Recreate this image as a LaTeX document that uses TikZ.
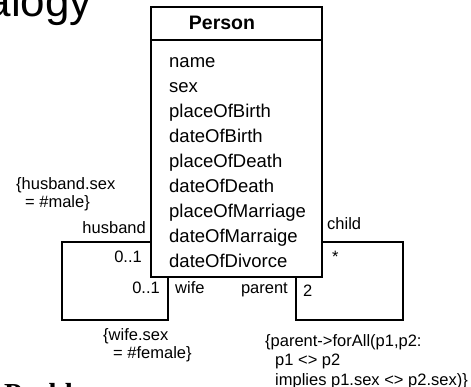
\documentclass[tikz,border=0pt]{standalone}
\usepackage{fontspec}
\setmainfont{Liberation Sans}
\newfontfamily\titleserif{Liberation Serif}
\begin{document}
\begin{tikzpicture}[x=1pt,y=-1pt,
  classbox/.style={draw, line width=1.5pt, rectangle, inner sep=0pt},
  assoc/.style={draw, line width=1.5pt},
  attr/.style={anchor=base west, inner sep=0pt, font=\fontsize{18.5}{22}\selectfont},
  rolelbl/.style={inner sep=0pt, font=\fontsize{16.5}{20}\selectfont},
  constr/.style={anchor=base west, inner sep=0pt, font=\fontsize{16.5}{20}\selectfont},
]
\useasboundingbox (0,0) rectangle (471,387);
\clip (0,0) rectangle (471,387);

% headings of the surrounding slide
\node[anchor=base east, inner sep=0pt, font=\fontsize{44}{52}\selectfont] (title) at (92,17) {Genealogy};
\node[anchor=base west, inner sep=0pt, font=\titleserif\bfseries\fontsize{29}{34}\selectfont] (section) at (4,403.5) {Problem};

% class Person
\node[classbox, minimum width=171, minimum height=270] (person) at (236.5,142) {};
\coordinate (sep) at (0,40);
\draw[line width=1.5pt] (person.west |- sep) -- (person.east |- sep);
\node[anchor=base, inner sep=0pt, font=\bfseries\fontsize{19.5}{23}\selectfont] (pname) at (222,30) {Person};

\node[attr] (a1) at (169,68)  {name};
\node[attr] (a2) at (169,93)  {sex};
\node[attr] (a3) at (169,118) {placeOfBirth};
\node[attr] (a4) at (169,143) {dateOfBirth};
\node[attr] (a5) at (169,168) {placeOfDeath};
\node[attr] (a6) at (169,193) {dateOfDeath};
\node[attr] (a7) at (169,218) {placeOfMarriage};
\node[attr] (a8) at (169,243) {dateOfMarraige};
\node[attr] (a9) at (169,268) {dateOfDivorce};

% marriage association (husband / wife)
\coordinate (h1) at (62,242);
\coordinate (h2) at (62,320);
\coordinate (w1) at (168,320);
\draw[assoc] (person.west |- h1) -- (h1) -- (h2) -- (w1) -- (w1 |- person.south);

\node[rolelbl, anchor=base east] (husband) at (146,234) {husband};
\node[rolelbl, anchor=base east] (hmult) at (142,263) {0..1};
\node[rolelbl, anchor=base east] (wmult) at (160,294) {0..1};
\node[rolelbl, anchor=base west] (wife) at (175,294) {wife};

\node[constr] (hc1) at (16,190) {\{husband.sex};
\node[constr] (hc2) at (25,208) {= \#male\}};
\node[constr] (wc1) at (103,340) {\{wife.sex};
\node[constr] (wc2) at (113,358) {= \#female\}};

% parenthood association (parent / child)
\coordinate (c1) at (403,242);
\coordinate (c2) at (403,320);
\coordinate (p1) at (296,320);
\draw[assoc] (person.east |- c1) -- (c1) -- (c2) -- (p1) -- (p1 |- person.south);

\node[rolelbl, anchor=base west] (child) at (327,230) {child};
\node[rolelbl, anchor=base west] (cmult) at (332,263) {*};
\node[rolelbl, anchor=base east] (parent) at (288,294) {parent};
\node[rolelbl, anchor=base west] (pmult) at (303,296) {2};

\node[constr] (pc1) at (265,346) {\{parent->forAll(p1,p2:};
\node[constr] (pc2) at (275,365.5) {p1 <> p2};
\node[constr] (pc3) at (275,385) {implies p1.sex <> p2.sex)\}};
\end{tikzpicture}
\end{document}
